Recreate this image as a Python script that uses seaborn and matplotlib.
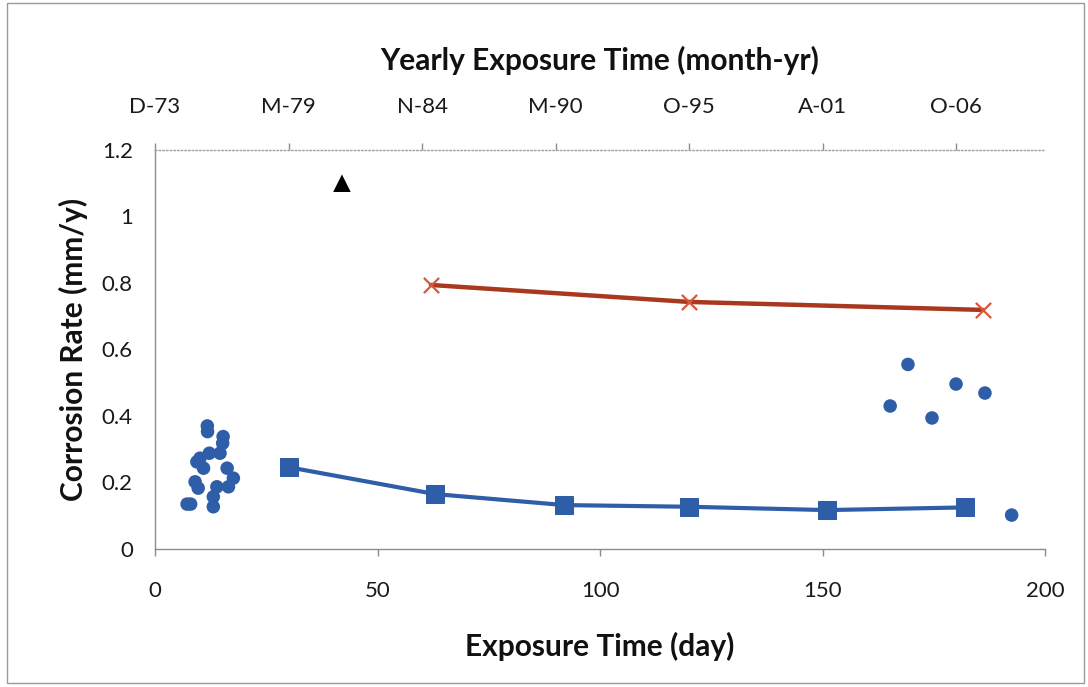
import matplotlib
matplotlib.use("Agg")
import matplotlib.pyplot as plt
import seaborn as sns
import pandas as pd
from matplotlib.patches import Rectangle

# short-exposure coupons (cluster near day 10)
cluster_day = [7.2, 8.0, 9.0, 9.4, 9.7, 10.1, 10.9, 11.75, 11.8, 12.2,
               13.1, 13.1, 13.9, 14.6, 15.2, 15.3, 16.2, 16.5, 17.6]
cluster_rate = [0.135, 0.135, 0.202, 0.262, 0.183, 0.273, 0.243, 0.370, 0.353, 0.288,
                0.157, 0.127, 0.187, 0.288, 0.318, 0.338, 0.243, 0.187, 0.213]

# late coupons
late_day = [165.2, 169.2, 174.6, 180.0, 186.5, 192.5]
late_rate = [0.430, 0.555, 0.394, 0.496, 0.469, 0.102]

# blue square series
square_day = [30, 63, 92, 120, 151, 182]
square_rate = [0.246, 0.165, 0.132, 0.127, 0.117, 0.125]

# red cross series
cross_day = [62, 120, 186]
cross_rate = [0.794, 0.743, 0.719]

# single triangle point
tri_day = [42]
tri_rate = [1.10]

# top axis (yearly exposure)
year_ticks = [0, 30, 60, 90, 120, 150, 180]
year_labels = ['D-73', 'M-79', 'N-84', 'M-90', 'O-95', 'A-01', 'O-06']

BLUE = '#2f5ea8'
RED = '#a8381e'
RED_MK = '#d9573c'
GRAY = '#8c8c8c'
TXT = '#1a1a1a'

sns.set_style('white')
plt.rcParams['font.family'] = ['Lato', 'DejaVu Sans']

fig = plt.figure(figsize=(10.88, 6.87), dpi=100)
ax = fig.add_axes([0.1425, 0.2009, 0.818, 0.5808])

sns.scatterplot(x=cluster_day, y=cluster_rate, ax=ax, color=BLUE, s=95,
                edgecolor='none', zorder=3)
sns.scatterplot(x=late_day, y=late_rate, ax=ax, color=BLUE, s=95,
                edgecolor='none', zorder=3)

squares = pd.DataFrame({'day': square_day, 'rate': square_rate})
sns.lineplot(data=squares, x='day', y='rate', ax=ax, color=BLUE, lw=3,
             marker='s', markersize=12.5, markeredgecolor=BLUE, sort=False,
             estimator=None, zorder=4)

crosses = pd.DataFrame({'day': cross_day, 'rate': cross_rate})
sns.lineplot(data=crosses, x='day', y='rate', ax=ax, color=RED, lw=3.2,
             sort=False, estimator=None, zorder=4)
sns.scatterplot(data=crosses, x='day', y='rate', ax=ax, marker='x', s=120,
                color=RED_MK, linewidth=1.6, zorder=5)

sns.scatterplot(x=tri_day, y=tri_rate, ax=ax, marker='^', s=160,
                color='black', edgecolor='none', zorder=5)

ax.set_xlim(0, 200)
ax.set_ylim(0, 1.2)
ax.set_xticks([0, 50, 100, 150, 200])
ax.set_yticks([0, 0.2, 0.4, 0.6, 0.8, 1.0, 1.2])
ax.set_yticklabels(['0', '0.2', '0.4', '0.6', '0.8', '1', '1.2'])
ax.tick_params(axis='x', direction='out', length=5, width=1, color=GRAY,
               pad=18, labelsize=16, labelcolor=TXT)
ax.tick_params(axis='y', direction='out', length=5, width=1, color=GRAY,
               pad=11, labelsize=16, labelcolor=TXT)
ax.set_xlabel('Exposure Time (day)', fontsize=21.5, fontweight='bold',
              color='#111111', va='center')
ax.set_ylabel('Corrosion Rate (mm/y)', fontsize=21.5, fontweight='bold',
              color='#111111', va='center')
ax.xaxis.set_label_coords(0.5, -0.245)
ax.yaxis.set_label_coords(-0.092, 0.5)

for side in ['left', 'bottom']:
    ax.spines[side].set_color(GRAY)
    ax.spines[side].set_linewidth(1)
ax.spines['right'].set_visible(False)
ax.spines['top'].set_visible(False)

ax2 = ax.twiny()
ax2.set_xlim(0, 200)
ax2.set_xticks(year_ticks)
ax2.set_xticklabels(year_labels)
ax2.tick_params(axis='x', direction='out', length=5, width=1, color=GRAY,
                pad=19, labelsize=16, labelcolor=TXT)
ax2.set_xlabel('Yearly Exposure Time (month-yr)', fontsize=21.5,
               fontweight='bold', color='#111111', va='center')
ax2.xaxis.set_label_coords(0.5, 1.225)
for side in ['left', 'right', 'bottom']:
    ax2.spines[side].set_visible(False)
ax2.spines['top'].set_color('#a0a0a0')
ax2.spines['top'].set_linestyle(':')
ax2.spines['top'].set_linewidth(1)

# outer chart frame
fig.patches.append(Rectangle((0.006, 0.006), 0.99, 0.99, transform=fig.transFigure,
                             fill=False, edgecolor='#9a9a9a', lw=1))

fig.savefig('out.png', dpi=100)
